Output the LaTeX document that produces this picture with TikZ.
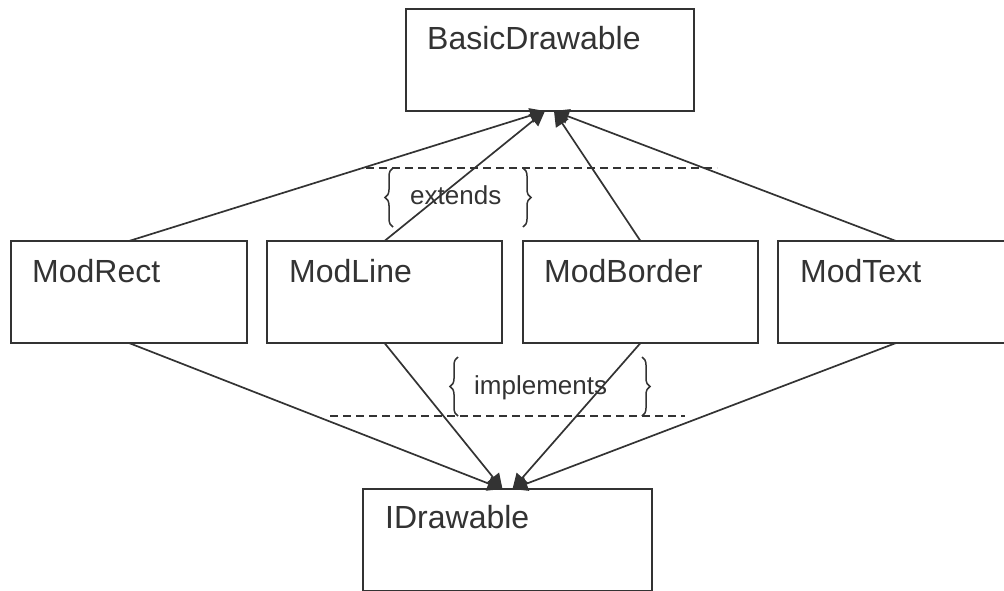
\documentclass[tikz,border=0pt]{standalone}
\usepackage{fontspec}
\setmainfont{Liberation Sans}
\usepackage{xcolor}
\usetikzlibrary{arrows.meta, positioning, calc, decorations.pathreplacing}

\definecolor{umlgray}{HTML}{333333}

\begin{document}
\begin{tikzpicture}[x=1pt, y=-1pt,
  box/.style={draw=umlgray, line width=1.8pt, anchor=north west, inner sep=0pt, outer sep=0pt,
    minimum width=236pt, minimum height=102pt},
  boxname/.style={anchor=base west, inner sep=0pt, text=umlgray, font=\fontsize{32}{38}\selectfont},
  relname/.style={anchor=base west, inner sep=0pt, text=umlgray, font=\fontsize{26}{31}\selectfont},
  inherit/.style={draw=umlgray, line width=1.7pt, -{Triangle[length=15pt, width=15pt]}},
  divider/.style={draw=umlgray, line width=1.4pt, dash pattern=on 8pt off 5pt},
  bracket/.style={draw=umlgray, line width=1.5pt, decorate, decoration={brace, amplitude=8pt}}]

  \useasboundingbox (0,0) rectangle (1004,590);
  \clip (0,0) rectangle (1004,590);

  % base class on top
  \node[box, minimum width=288pt] (basic) at (406,9) {};
  \node[boxname] (basicT) at ($(basic.north west)+(21,40)$) {BasicDrawable};

  % the four drawables, one row
  \node[box] (rect) at (11,241) {};
  \node[box, minimum width=235pt] (line) at (267,241) {};
  \node[box, minimum width=235pt] (border) at (523,241) {};
  \node[box] (modtext) at (778,241) {};
  \node[boxname] (rectT) at ($(rect.north west)+(21,41)$) {ModRect};
  \node[boxname] (lineT) at ($(line.north west)+(22,41)$) {ModLine};
  \node[boxname] (borderT) at ($(border.north west)+(21,41)$) {ModBorder};
  \node[boxname] (modtextT) at ($(modtext.north west)+(22,41)$) {ModText};

  % interface at the bottom
  \node[box, minimum width=289pt] (idraw) at (363,489) {};
  \node[boxname] (idrawT) at ($(idraw.north west)+(22,39)$) {IDrawable};

  % separators
  \draw[divider] (366,168) -- (717,168);
  \draw[divider] (330,416) -- (685,416);

  % relation labels in braces
  \node[relname] (extT) at (410,204) {extends};
  \draw[bracket] (393,227) -- (393,168);
  \draw[bracket] (523,168) -- (523,227);
  \node[relname] (implT) at (474,394) {implements};
  \draw[bracket] (458,416) -- (458,357);
  \draw[bracket] (642,357) -- (642,416);

  % extends arrows
  \coordinate (upL) at ($(basic.south)+(-5,0)$);
  \coordinate (upR) at ($(basic.south)+(4,0)$);
  \draw[inherit] (rect.north) -- (upL);
  \draw[inherit] (line.north) -- (upL);
  \draw[inherit] (border.north) -- (upR);
  \draw[inherit] (modtext.north) -- (upR);

  % implements arrows
  \coordinate (dnL) at ($(idraw.north)+(-5,0)$);
  \coordinate (dnR) at ($(idraw.north)+(5,0)$);
  \draw[inherit] (rect.south) -- (dnL);
  \draw[inherit] (line.south) -- (dnL);
  \draw[inherit] (border.south) -- (dnR);
  \draw[inherit] (modtext.south) -- (dnR);
\end{tikzpicture}
\end{document}
